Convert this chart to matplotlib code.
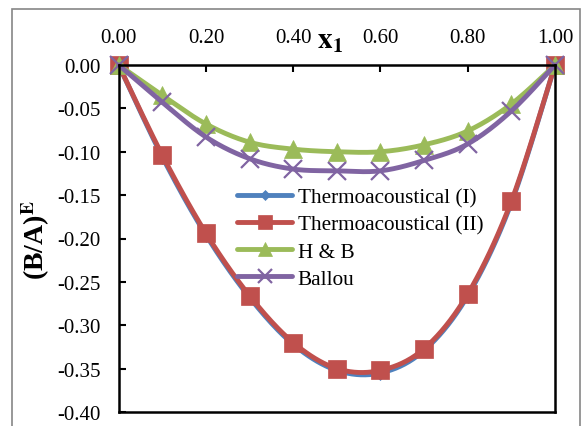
import numpy as np
import matplotlib
matplotlib.use("Agg")
import matplotlib.pyplot as plt
from matplotlib.patches import Rectangle

plt.rcParams['font.family'] = 'Liberation Serif'
plt.rcParams['mathtext.fontset'] = 'stix'

# data
x1 = [0.0, 0.1, 0.2, 0.3, 0.4, 0.5, 0.6, 0.7, 0.8, 0.9, 1.0]
thermo_1 = [0.0, -0.106, -0.196, -0.268, -0.322, -0.352, -0.355, -0.329, -0.266, -0.159, 0.0]
thermo_2 = [0.0, -0.104, -0.194, -0.266, -0.320, -0.350, -0.352, -0.327, -0.264, -0.157, 0.0]
h_b = [0.0, -0.035, -0.068, -0.089, -0.097, -0.100, -0.100, -0.092, -0.076, -0.045, 0.0]
ballou = [0.0, -0.043, -0.083, -0.108, -0.120, -0.122, -0.122, -0.110, -0.091, -0.053, 0.0]

labels = ["Thermoacoustical (I)", "Thermoacoustical (II)", "H & B", "Ballou"]
colors = ["#4F81BD", "#C0504D", "#9BBB59", "#8064A2"]
markers = ["D", "s", "^", "x"]
msizes = [7, 13, 13, 13]

xticks = [0.0, 0.2, 0.4, 0.6, 0.8, 1.0]
yticks = [0.0, -0.05, -0.10, -0.15, -0.20, -0.25, -0.30, -0.35, -0.40]


def smooth(xs, ys, n=20):
    # Excel-like smoothed line (Catmull-Rom through the points)
    p = np.column_stack([xs, ys])
    p = np.vstack([p[0], p, p[-1]])
    out = []
    t = np.linspace(0, 1, n, endpoint=False)
    for i in range(1, len(p) - 2):
        p0, p1, p2, p3 = p[i - 1], p[i], p[i + 1], p[i + 2]
        for tt in t:
            q = 0.5 * ((2 * p1) + (-p0 + p2) * tt
                       + (2 * p0 - 5 * p1 + 4 * p2 - p3) * tt ** 2
                       + (-p0 + 3 * p1 - 3 * p2 + p3) * tt ** 3)
            out.append(q)
    out.append(p[-2])
    out = np.array(out)
    return out[:, 0], out[:, 1]


fig = plt.figure(figsize=(5.81, 4.27), dpi=100)
ax = fig.add_axes([118.7 / 581, 1 - 413 / 427, (555 - 118.7) / 581, (413 - 66) / 427])

n = 20
for ys, lab, c, m, ms in zip([thermo_1, thermo_2, h_b, ballou], labels, colors, markers, msizes):
    sx, sy = smooth(x1, ys, n)
    mev = list(range(0, len(sx), n))
    ax.plot(sx, sy, color=c, lw=3.5, label=lab, marker=m, markersize=ms,
            markevery=mev, markeredgewidth=1.6 if m == "x" else 0.5,
            markeredgecolor=c, solid_capstyle="round", clip_on=False)

ax.set_xlim(0, 1)
ax.set_ylim(-0.40, 0)
ax.set_xticks(xticks)
ax.set_xticklabels(["%.2f" % v for v in xticks])
ax.set_yticks(yticks)
ax.set_yticklabels(["%.2f" % v for v in yticks])
ax.xaxis.tick_top()
ax.tick_params(axis='x', direction='in', length=5, width=1.5, pad=13, labelsize=15)
ax.tick_params(axis='y', direction='in', length=5, width=1.5, pad=13, labelsize=15)
for s in ax.spines.values():
    s.set_linewidth(1.8)

fig.text(330 / 581, 1 - 42 / 427, r"$\mathbf{x_1}$", fontsize=21, ha='center', va='center')
fig.text(36 / 581, 1 - 240 / 427, r"(B/A)$^{\mathbf{E}}$", fontsize=20, fontweight='bold',
         rotation=90, ha='center', va='center')

ax.legend(loc='upper left', bbox_to_anchor=(237 / 581, 1 - 189 / 427),
          bbox_transform=fig.transFigure, frameon=False, fontsize=15.3,
          handlelength=2.6, handletextpad=0.25, labelspacing=0.33,
          borderpad=0, borderaxespad=0, markerscale=0.75)

fig.add_artist(Rectangle((12 / 581, -0.05), (580 - 12) / 581, 1.05 - 10 / 427,
                         transform=fig.transFigure, fill=False, edgecolor="#868686", lw=1.2))

fig.savefig("out.png", dpi=100)
